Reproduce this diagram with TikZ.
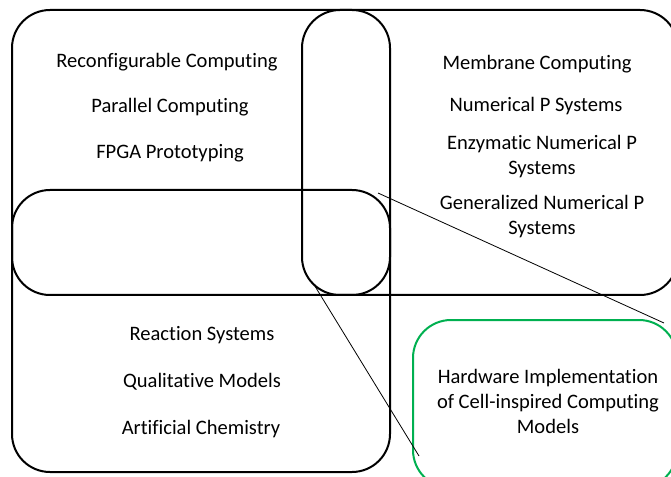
\documentclass[tikz,border=0pt]{standalone}
\usepackage{fontspec}
\setmainfont[Ligatures={NoCommon}]{Carlito}
\usepackage{xcolor}
\usetikzlibrary{
    calc,
    positioning
}
\definecolor{hwgreen}{RGB}{0,176,80}
\tikzset{
    setbox/.style={draw, line width=1.5pt, rounded corners=28.5pt},
    topic/.style={font=\fontsize{15.4}{18.75}\selectfont, align=center, inner sep=0pt, anchor=base},
    zoomline/.style={line width=0.6pt}
}

\begin{document}
\begin{tikzpicture}[x=0.75pt, y=-0.75pt]
    \useasboundingbox (0, 0) rectangle (671, 477);
    % the three fields
    \draw[setbox] (12, 10) rectangle (390, 295);
    \draw[setbox] (302, 10) rectangle (678, 295);
    \draw[setbox] (12, 190) rectangle (390, 472);
    % hardware box
    \draw[setbox, hwgreen] (413, 320) rectangle (677, 488);

    \node[topic] (reconf) at (167, 68) {Reconfigurable Computing};
    \node[topic] (parallel) at (170, 113) {Parallel Computing};
    \node[topic] (fpga) at (170, 159) {FPGA Prototyping};

    \node[topic] (membrane) at (537, 70) {Membrane Computing};
    \node[topic] (nps) at (536, 112) {Numerical P Systems};
    % base of a two-line node is its last line
    \node[topic] (enps) at (542, 175) {Enzymatic Numerical P\\Systems};
    \node[topic] (gnps) at (542, 235) {Generalized Numerical P\\Systems};

    \node[topic] (rs) at (202, 340) {Reaction Systems};
    \node[topic] (qual) at (202, 387) {Qualitative Models};
    \node[topic] (achem) at (201, 434) {Artificial Chemistry};

    \node[topic] (hw) at (548, 433) {Hardware Implementation\\of Cell-inspired Computing\\Models};

    % zoom lines
    \coordinate (zA) at (378, 193);
    \coordinate (zB) at (313, 283);
    \coordinate (hA) at (664, 323);
    \coordinate (hB) at (419, 456);
    \draw[zoomline] (zA) -- (hA) (zB) -- (hB);
\end{tikzpicture}
\end{document}
